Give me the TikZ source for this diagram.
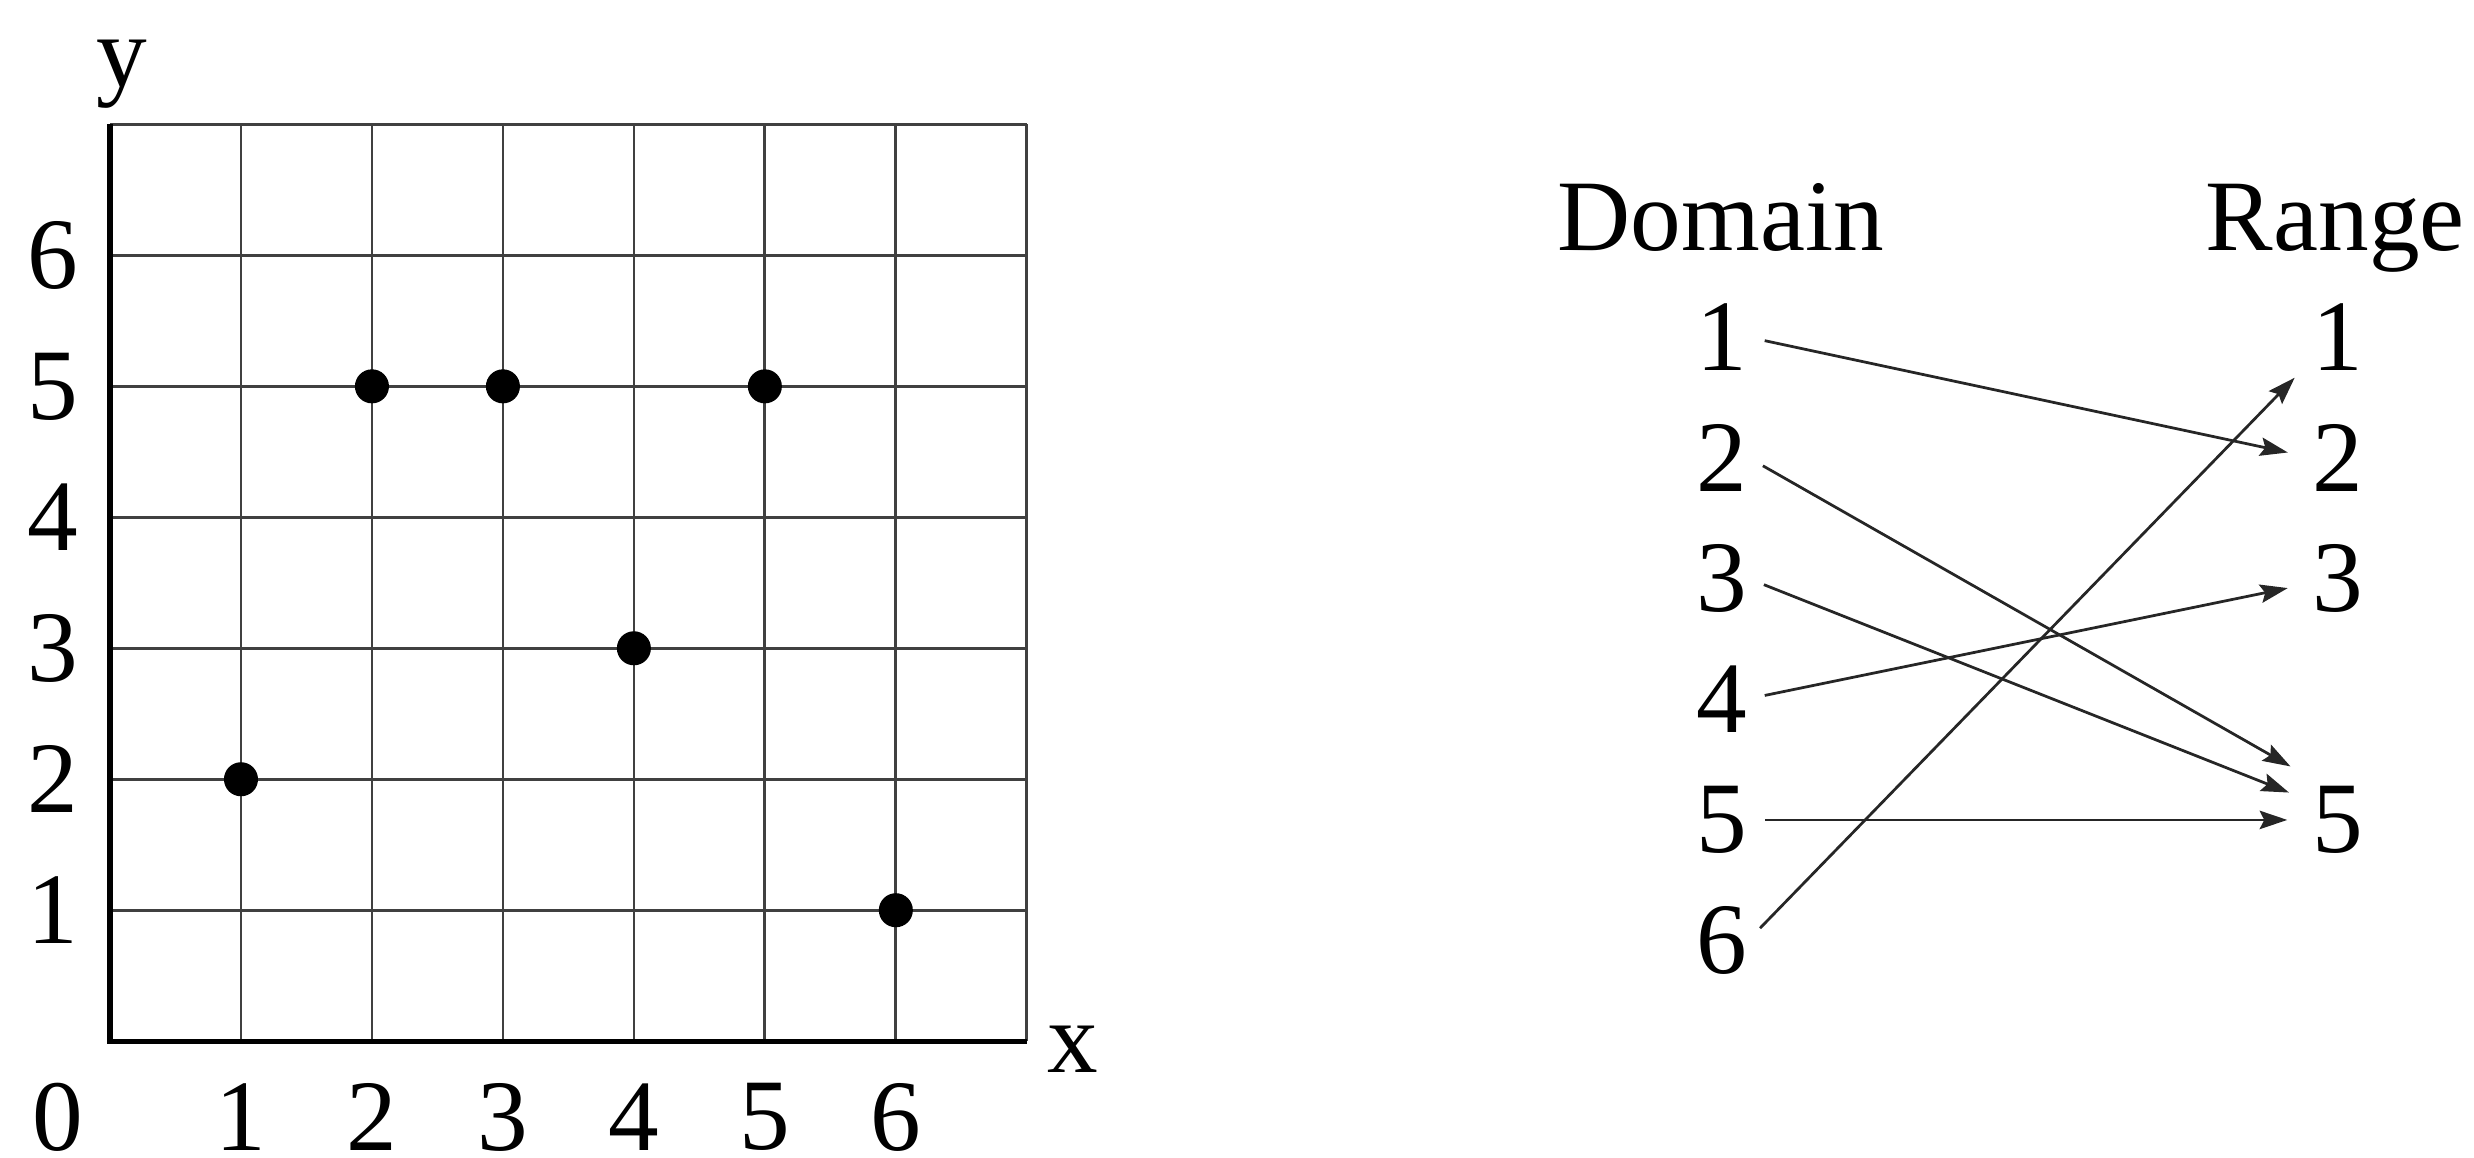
\documentclass[tikz,border=0pt]{standalone}
\usepackage{fontspec}
\setmainfont{Liberation Serif}
\usetikzlibrary{positioning,arrows.meta}

\begin{document}
\begin{tikzpicture}[
  lbl/.style={inner sep=0pt, font=\fontsize{22}{26}\selectfont},
  gridline/.style={draw=black!75, line width=0.6pt},
  axis/.style={draw=black, line width=1.1pt},
  dot/.style={fill=black},
  map/.style={->, line width=0.6pt, draw=black!85, shorten <=3.6pt, shorten >=5.3pt},
  >={Stealth[length=6pt,width=4pt,inset=1pt]}
]
  \useasboundingbox (-0.84,-0.89) rectangle (18.05,7.95);

  % Grid
  \foreach \i in {1,...,7} {
    \draw[gridline] (\i,0) -- (\i,7);
    \draw[gridline] (0,\i) -- (7,\i);
  }
  \draw[axis] (0,7) -- (0,0) -- (7,0);

  % Axis labels
  \node[lbl] (o) at (-0.40,-0.58) {0};
  \foreach \i in {1,...,6} {
    \node[lbl] (xt\i) at (\i,-0.58) {\i};
    \node[lbl] (yt\i) at (-0.44,\i) {\i};
  }
  \node[lbl] (xlab) at (7.35,-0.06) {x};
  \node[lbl] (ylab) at (0.09,7.38) {y};

  % Points
  \foreach \px/\py in {1/2,2/5,3/5,4/3,5/5,6/1}
    \fill[dot] (\px,\py) circle (0.13);

  % Domain and range
  \node[lbl, anchor=base] (dom) at (12.30,6.04) {Domain};
  \node[lbl, anchor=base] (ran) at (16.99,6.04) {Range};
  \foreach \i in {1,...,6}
    \node[lbl, anchor=base] (d\i) at (12.31,{5.12-0.92*(\i-1)}) {\i};
  \foreach \i in {1,2,3,5}
    \node[lbl, right=4.30cm of d\i] (r\i) {\i};

  % Mapping
  \draw[map] (d1.east) -- (r2.west);
  \draw[map] (d2.east) -- ([yshift=9pt]r5.west);
  \draw[map] (d3.east) -- ([yshift=4pt]r5.west);
  \draw[map] (d4.east) -- ([yshift=-1pt]r3.west);
  \draw[map] (d5.east) -- (r5.west);
  \draw[map] (d6.east) -- ([yshift=-5pt]r1.west);
\end{tikzpicture}
\end{document}
